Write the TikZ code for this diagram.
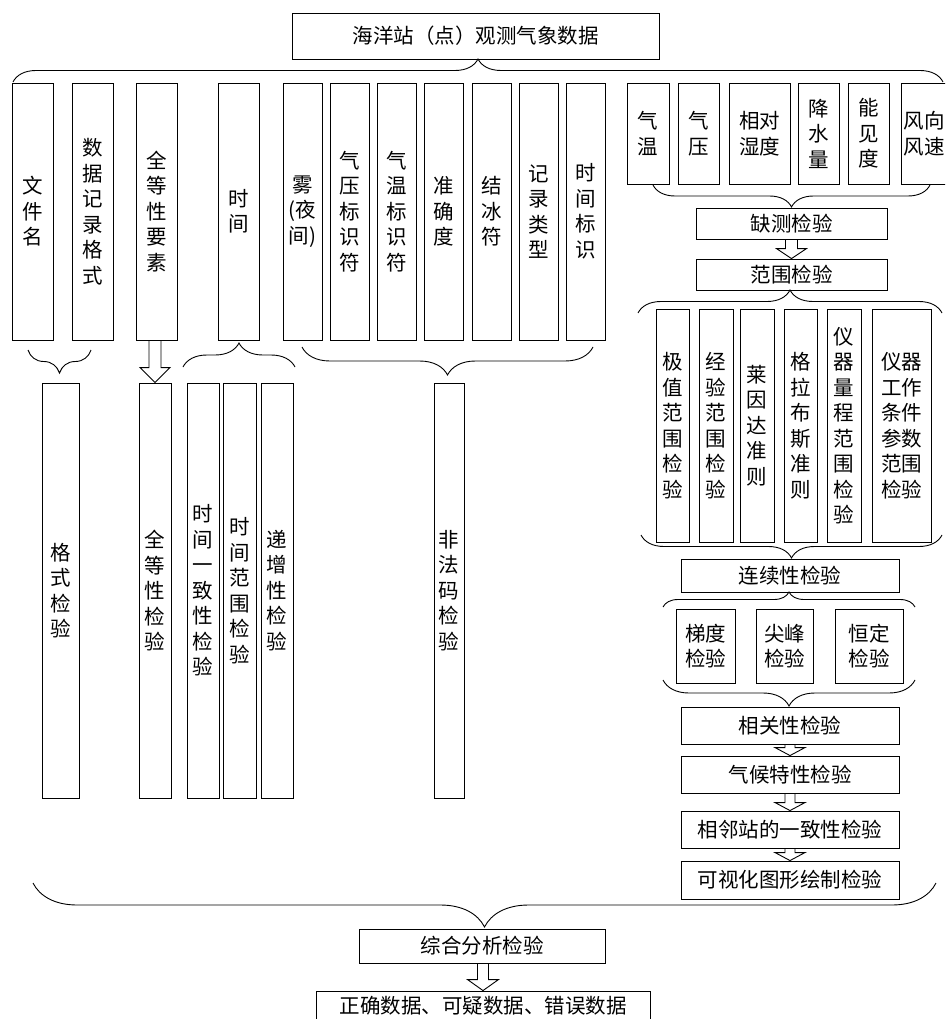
\documentclass[tikz,border=0pt]{standalone}
\usepackage{fontspec}
\newfontfamily\cjk{Noto Sans CJK SC}
\usetikzlibrary{calc,decorations.pathreplacing}
\newcommand\fatarrow[5]{\draw[line width=0.9pt] let \p1=(#1.south), \p2=(#2.north) in
  (\x2-#3,\y1) -- (\x2-#3,\y2+#5) -- (\x2-#4,\y2+#5) -- (\x2,\y2) -- (\x2+#4,\y2+#5) -- (\x2+#3,\y2+#5) -- (\x2+#3,\y1);}
\begin{document}
\begin{tikzpicture}[x=1pt,y=-1pt,
  box/.style={draw,line width=0.9pt,inner sep=0pt,align=center,font=\cjk\fontsize{20.5}{25.5}\selectfont},
  col/.style={box,minimum height=257},
  meas/.style={box,minimum height=101},
  rng/.style={box,minimum height=233},
  chk/.style={box,minimum height=415},
  brc/.style={decorate,decoration={brace,amplitude=#1},line width=0.9pt}]
\useasboundingbox (0,0) rectangle (945,1019);
\clip (0,0) rectangle (945,1019);

\node[box,minimum width=367,minimum height=46] (data) at (475.5,36) {海洋站（点）观测气象数据};

\node[col,minimum width=41] (fname) at (32.5,211.5) {文\\件\\名};
\node[col,minimum width=41] (fmt) at (92.5,211.5) {数\\据\\记\\录\\格\\式};
\node[col,minimum width=41] (cong) at (156.5,211.5) {全\\等\\性\\要\\素};
\node[col,minimum width=41] (time) at (238.5,211.5) {时\\间};
\node[col,minimum width=39] (fog) at (302.5,211.5) {雾\\(夜\\间)};
\node[col,minimum width=39] (pflag) at (349.5,211.5) {气\\压\\标\\识\\符};
\node[col,minimum width=39] (tflag) at (397,211.5) {气\\温\\标\\识\\符};
\node[col,minimum width=39] (acc) at (443.5,211.5) {准\\确\\度};
\node[col,minimum width=39] (ice) at (491.5,211.5) {结\\冰\\符};
\node[col,minimum width=39] (rtype) at (538.5,211.5) {记\\录\\类\\型};
\node[col,minimum width=39] (tmark) at (585.5,211.5) {时\\间\\标\\识};

\node[meas,minimum width=42] (ta) at (648,133.5) {气\\温};
\node[meas,minimum width=41] (pa) at (698.5,133.5) {气\\压};
\node[meas,minimum width=61] (rh) at (759.5,133.5) {相对\\湿度};
\node[meas,minimum width=41] (rain) at (818.5,133.5) {降\\水\\量};
\node[meas,minimum width=41] (vis) at (868.5,133.5) {能\\见\\度};
\node[meas,minimum width=46] (wind) at (924,133.5) {风向\\风速};

\node[box,minimum width=191,minimum height=31] (miss) at (791.5,223.5) {缺测检验};
\node[box,minimum width=191,minimum height=31] (range) at (791.5,274.5) {范围检验};

\node[rng,minimum width=33] (r1) at (672.5,425.5) {极\\值\\范\\围\\检\\验};
\node[rng,minimum width=34] (r2) at (716,425.5) {经\\验\\范\\围\\检\\验};
\node[rng,minimum width=34] (r3) at (757,425.5) {莱\\因\\达\\准\\则};
\node[rng,minimum width=33] (r4) at (800.5,425.5) {格\\拉\\布\\斯\\准\\则};
\node[rng,minimum width=34] (r5) at (844,425.5) {仪\\器\\量\\程\\范\\围\\检\\验};
\node[rng,minimum width=59] (r6) at (901.5,425.5) {仪器\\工作\\条件\\参数\\范围\\检验};

\node[box,minimum width=218,minimum height=33] (cont) at (790,575.5) {连续性检验};
\node[box,minimum width=59,minimum height=74] (grad) at (705.5,646) {梯度\\检验};
\node[box,minimum width=57,minimum height=74] (spike) at (784.5,646) {尖峰\\检验};
\node[box,minimum width=68,minimum height=74] (const) at (869,646) {恒定\\检验};

\node[box,minimum width=218,minimum height=37] (corr) at (790,725.5) {相关性检验};
\node[box,minimum width=218,minimum height=37] (clim) at (790,774.5) {气候特性检验};
\node[box,minimum width=218,minimum height=37] (nbr) at (790,829.5) {相邻站的一致性检验};
\node[box,minimum width=218,minimum height=38] (plot) at (790,880) {可视化图形绘制检验};

\node[chk,minimum width=37] (fmtchk) at (60.5,590.5) {格\\式\\检\\验};
\node[chk,minimum width=32] (congchk) at (155,590.5) {全\\等\\性\\检\\验};
\node[chk,minimum width=32] (tcons) at (203,590.5) {时\\间\\一\\致\\性\\检\\验};
\node[chk,minimum width=33] (trange) at (239.5,590.5) {时\\间\\范\\围\\检\\验};
\node[chk,minimum width=32] (tinc) at (277,590.5) {递\\增\\性\\检\\验};
\node[chk,minimum width=30] (illegal) at (449,590.5) {非\\法\\码\\检\\验};

\node[box,minimum width=246,minimum height=34] (comp) at (482,946) {综合分析检验};
\node[box,minimum width=334,minimum height=30] (result) at (483,1006) {正确数据、可疑数据、错误数据};

\draw[brc=23pt] (13,82) -- (943,82);
\draw[brc=22pt] (930,185) -- (653,185);
\draw[brc=23pt] (638,313) -- (942,313);
\draw[brc=23pt] (942,535) -- (641,535);
\draw[brc=15pt] (663,607) -- (915,607);
\draw[brc=26pt] (915,680) -- (663,680);
\draw[brc=44pt] (936,883) -- (33,883);
\draw[brc=23pt] (91,350) -- (28,350);
\draw[brc=24pt] (183,367) -- (295,367);
\draw[brc=28pt] (593,347) -- (302,347);

\fatarrow{cong}{congchk}{6pt}{15pt}{15pt}
\fatarrow{miss}{range}{6pt}{15pt}{10pt}
\fatarrow{corr}{clim}{5pt}{15pt}{8pt}
\fatarrow{clim}{nbr}{5pt}{15pt}{8pt}
\fatarrow{nbr}{plot}{5pt}{15pt}{8pt}
\fatarrow{comp}{result}{5.5pt}{15.5pt}{11pt}
\end{tikzpicture}
\end{document}
